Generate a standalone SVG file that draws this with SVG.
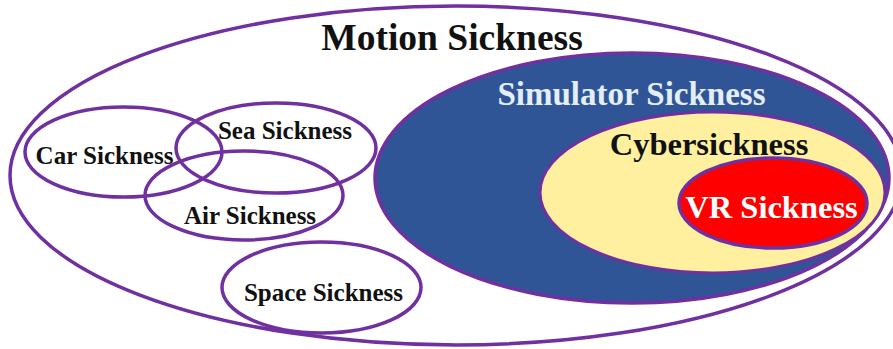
<svg xmlns="http://www.w3.org/2000/svg" width="893" height="349" viewBox="0 0 893 349">
<style>
.ring{fill:none;stroke:#7030A0;stroke-width:3.5}
.t{font-family:"Liberation Serif","Times New Roman",serif;font-weight:bold;text-anchor:middle}
.s{font-size:25px;fill:#111}
.m{font-size:32.5px}
</style>
<rect width="893" height="349" fill="#fff"/>
<g id="motion">
<ellipse class="ring" cx="456" cy="175.5" rx="446" ry="169.5"/>
<text class="t" x="452" y="50" font-size="37.5" fill="#111">Motion Sickness</text>
</g>
<g id="simulator">
<ellipse cx="632" cy="178" rx="257" ry="125" fill="#2F5597" stroke="#7030A0" stroke-width="3.5"/>
<text class="t" x="631.5" y="105" font-size="33" fill="#E4EEF9">Simulator Sickness</text>
</g>
<g id="cyber">
<ellipse cx="712.5" cy="192.5" rx="172.5" ry="80.5" fill="#FFF0A0" stroke="#7030A0" stroke-width="3"/>
<text class="t m" x="709" y="155" fill="#111">Cybersickness</text>
</g>
<g id="vr">
<ellipse cx="773" cy="203" rx="94" ry="45" fill="#FF0000" stroke="#7030A0" stroke-width="3.5"/>
<text class="t m" x="771.5" y="218" fill="#fff">VR Sickness</text>
</g>
<g id="car">
<ellipse class="ring" cx="123.5" cy="152" rx="98.5" ry="45"/>
<text class="t s" x="104.5" y="164">Car Sickness</text>
</g>
<g id="sea">
<ellipse class="ring" cx="276" cy="148" rx="100" ry="45"/>
<text class="t s" x="285" y="139">Sea Sickness</text>
</g>
<g id="air">
<ellipse class="ring" cx="244" cy="195.5" rx="99" ry="44.5"/>
<text class="t s" x="250" y="224">Air Sickness</text>
</g>
<g id="space">
<ellipse class="ring" cx="321.5" cy="287.5" rx="99.5" ry="45.5"/>
<text class="t s" x="323.5" y="301">Space Sickness</text>
</g>
<g id="connectors"/>
</svg>
